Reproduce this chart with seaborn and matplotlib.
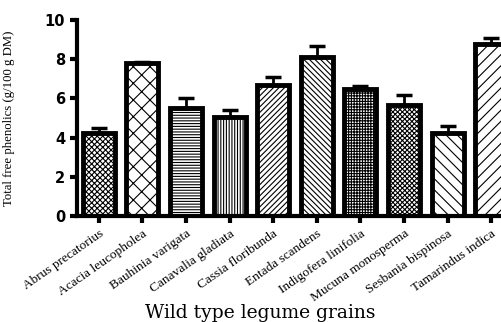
import numpy as np
import pandas as pd
import matplotlib
matplotlib.use('Agg')
import matplotlib.pyplot as plt
import seaborn as sns

species = ['Abrus precatorius', 'Acacia leucopholea', 'Bauhinia varigata',
           'Canavalia gladiata', 'Cassia floribunda', 'Entada scandens',
           'Indigofera linifolia', 'Mucuna monosperma', 'Sesbania bispinosa',
           'Tamarindus indica']
phenolics = [4.25, 7.8, 5.5, 5.05, 6.7, 8.1, 6.5, 5.65, 4.25, 8.75]
sem = [0.22, 0.05, 0.52, 0.35, 0.4, 0.55, 0.12, 0.52, 0.33, 0.35]
hatches = ['xxxxxx', 'XX', '------', '||||||', '//////', '\\\\\\\\\\\\',
           '++++++', 'xxxxxxx', '\\\\\\', '///']

df = pd.DataFrame({'Species': species, 'Phenolics': phenolics})

plt.rcParams['hatch.linewidth'] = 0.8
fig = plt.figure(figsize=(5.02, 3.22), dpi=100)
ax = fig.add_axes([77/502, 106/322, 436/502, 196/322])

sns.barplot(data=df, x='Species', y='Phenolics', color='white', edgecolor='black',
            linewidth=3.5, width=0.73, errorbar=None, ax=ax)
for p, h in zip(ax.patches, hatches):
    p.set_hatch(h)

ax.errorbar(np.arange(len(species)), phenolics,
            yerr=[np.zeros(len(sem)), sem], fmt='none', ecolor='black',
            elinewidth=2, capsize=5.5, capthick=2.5, zorder=1)

ax.set_xlim(-0.5, len(species) - 0.5)
ax.set_ylim(0, 10)
ax.set_yticks([0, 2, 4, 6, 8, 10])
sns.despine(ax=ax, top=True, right=True)
ax.spines['left'].set_linewidth(3)
ax.spines['bottom'].set_linewidth(3)
ax.tick_params(axis='both', width=3, length=5)
for t in ax.get_yticklabels():
    t.set_fontfamily('DejaVu Sans')
    t.set_fontweight('bold')
    t.set_fontsize(10.5)
ax.set_xticks(range(len(species)))
ax.set_xticklabels(species, rotation=35, ha='right', rotation_mode='anchor',
                   family='Liberation Serif', fontsize=9.6)
ax.set_ylabel('Total free phenolics (g/100 g DM)', family='Liberation Serif', fontsize=9.2)
ax.yaxis.set_label_coords(-0.142, 0.5)
ax.set_xlabel('Wild type legume grains', family='DejaVu Serif', fontsize=13.5)
ax.xaxis.set_label_coords(0.42, -0.45)

fig.savefig('out.png', dpi=100)
